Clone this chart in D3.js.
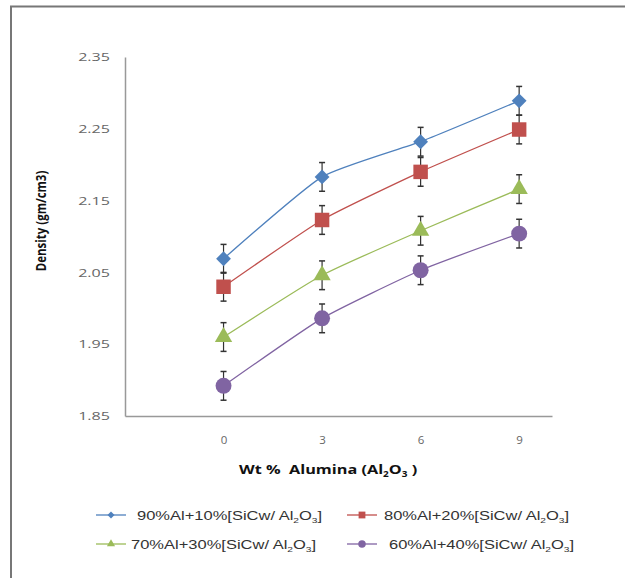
<!DOCTYPE html>
<html>
<head>
<meta charset="utf-8">
<script src="https://cdn.jsdelivr.net/npm/d3@7"></script>
<style>
  body { margin: 0; background: #fff; }
  svg { display: block; }
</style>
</head>
<body>
<div id="chart"></div>
<script>
const width = 625;
const height = 578;

// chart data
const xValues = [0, 3, 6, 9];
const xTicks = [0, 3, 6, 9];
const yTicks = [1.85, 1.95, 2.05, 2.15, 2.25, 2.35];
const series90 = [2.069, 2.183, 2.232, 2.289];
const series80 = [2.030, 2.123, 2.190, 2.249];
const series70 = [1.960, 2.046, 2.108, 2.166];
const series60 = [1.892, 1.986, 2.053, 2.104];
const errorBar = 0.02;
const seriesNames = ['90%Al+10%[SiCw/ Al', '80%Al+20%[SiCw/ Al', '70%Al+30%[SiCw/ Al', '60%Al+40%[SiCw/ Al'];

// wide diamond, like the Excel marker
const diamond = {
  draw(ctx, size) {
    const r = Math.sqrt(size / 2);
    ctx.moveTo(0, -r); ctx.lineTo(r, 0); ctx.lineTo(0, r); ctx.lineTo(-r, 0); ctx.closePath();
  }
};

const series = [
  { values: series90, color: '#4F81BD', shape: diamond, size: 110 },
  { values: series80, color: '#C0504D', shape: d3.symbolSquare, size: 210 },
  { values: series70, color: '#9BBB59', shape: d3.symbolTriangle, size: 130 },
  { values: series60, color: '#8064A2', shape: d3.symbolCircle, size: 200 }
];

const stretch = 1.25; // the picture's text is a little wide

const svg = d3.select('#chart').append('svg')
  .attr('width', width)
  .attr('height', height);

// outer frame (only top and left edges visible)
svg.append('path')
  .attr('d', 'M11,' + height + ' V6.5 H' + width)
  .attr('fill', 'none')
  .attr('stroke', '#777')
  .attr('stroke-width', 2);

const x = d3.scaleLinear().domain([-3, 10]).range([125, 552]);
const y = d3.scaleLinear().domain([1.85, 2.35]).range([416, 57]);

// axes
const xAxis = svg.append('g')
  .attr('transform', `translate(0,${y(1.85)})`)
  .call(d3.axisBottom(x).tickValues(xTicks).tickSize(0).tickPadding(20).tickFormat(d3.format('d')));
xAxis.select('.domain').attr('stroke', '#999').attr('stroke-width', 1.5);

const yAxis = svg.append('g')
  .attr('transform', `translate(${x(-3)},0)`)
  .call(d3.axisLeft(y).tickValues(yTicks).tickSize(0).tickPadding(15).tickFormat(d3.format('.2f')));
yAxis.select('.domain').attr('stroke', '#999').attr('stroke-width', 1.5);

svg.selectAll('.tick text')
  .attr('fill', '#666')
  .style('font-family', '"Open Sans", sans-serif')
  .style('font-size', '11.5px');
yAxis.selectAll('.tick text')
  .attr('x', -15 / 1.4)
  .attr('transform', 'scale(1.4,1)');

// axis titles
svg.append('text')
  .attr('transform', 'translate(46,221) scale(1.2,1) rotate(-90)')
  .attr('text-anchor', 'middle')
  .style('font-family', '"Open Sans", sans-serif')
  .style('font-size', '11.5px')
  .style('font-weight', 'bold')
  .attr('fill', '#111')
  .text('Density (gm/cm3)');

const xTitle = svg.append('text')
  .attr('transform', `translate(239,474) scale(${stretch},1)`)
  .style('font-family', '"Open Sans", sans-serif')
  .style('font-size', '13px')
  .style('font-weight', 'bold')
  .style('white-space', 'pre')
  .attr('fill', '#111');
xTitle.append('tspan').text('Wt %  Alumina (Al');
xTitle.append('tspan').attr('dy', 3).style('font-size', '8px').text('2');
xTitle.append('tspan').attr('dy', -3).text('O');
xTitle.append('tspan').attr('dy', 3).style('font-size', '8px').text('3');
xTitle.append('tspan').attr('dy', -3).text(' )');

// lines, error bars, markers
const line = d3.line()
  .x((d, i) => x(xValues[i]))
  .y(d => y(d))
  .curve(d3.curveCardinal.tension(0.5));

series.forEach(s => {
  svg.append('path')
    .datum(s.values)
    .attr('d', line)
    .attr('fill', 'none')
    .attr('stroke', s.color)
    .attr('stroke-width', 1.3);
});

series.forEach(s => {
  const g = svg.append('g');
  s.values.forEach((v, i) => {
    const cx = x(xValues[i]);
    const y0 = y(v - errorBar), y1 = y(v + errorBar);
    g.append('line').attr('x1', cx).attr('x2', cx).attr('y1', y0).attr('y2', y1)
      .attr('stroke', '#333').attr('stroke-width', 1.2);
    [y0, y1].forEach(yy => {
      g.append('line').attr('x1', cx - 3).attr('x2', cx + 3).attr('y1', yy).attr('y2', yy)
        .attr('stroke', '#333').attr('stroke-width', 1.5);
    });
  });
  g.selectAll('path')
    .data(s.values)
    .enter()
    .append('path')
    .attr('transform', (d, i) => `translate(${x(xValues[i])},${y(d)})`)
    .attr('d', d3.symbol().type(s.shape).size(s.size))
    .attr('fill', s.color);
});

// legend
const legendPos = [
  { lx: 96, ly: 515, tx: 137 },
  { lx: 347, ly: 515, tx: 384 },
  { lx: 96, ly: 544, tx: 131 },
  { lx: 347, ly: 544, tx: 389 }
];

series.forEach((s, i) => {
  const p = legendPos[i];
  const g = svg.append('g');
  g.append('line')
    .attr('x1', p.lx).attr('x2', p.lx + 30)
    .attr('y1', p.ly).attr('y2', p.ly)
    .attr('stroke', s.color).attr('stroke-width', 1.3);
  g.append('path')
    .attr('transform', `translate(${p.lx + 15},${p.ly})`)
    .attr('d', d3.symbol().type(s.shape).size(s.size * 0.22))
    .attr('fill', s.color);
  const t = g.append('text')
    .attr('transform', `translate(${p.tx},${p.ly + 5}) scale(1.27,1)`)
    .style('font-family', '"Liberation Sans", Arial, sans-serif')
    .style('font-size', '13px')
    .attr('fill', '#333');
  t.append('tspan').text(seriesNames[i]);
  t.append('tspan').attr('dy', 3).style('font-size', '8px').text('2');
  t.append('tspan').attr('dy', -3).text('O');
  t.append('tspan').attr('dy', 3).style('font-size', '8px').text('3');
  t.append('tspan').attr('dy', -3).text(']');
});
</script>
</body>
</html>
